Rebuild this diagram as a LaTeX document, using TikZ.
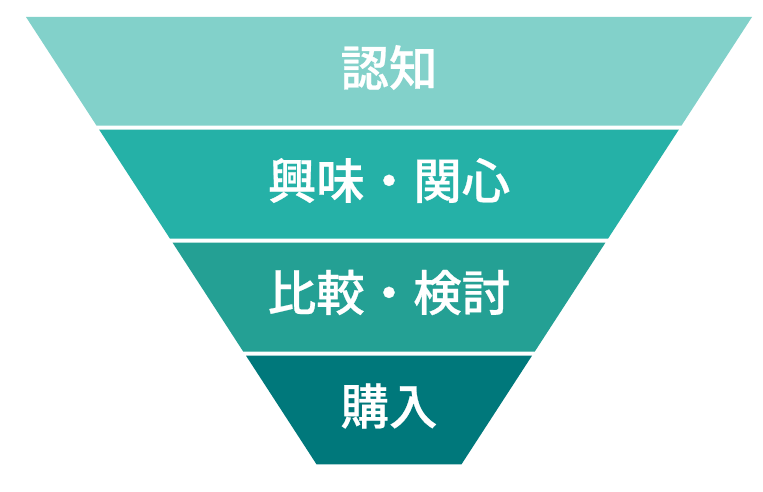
\documentclass[tikz,border=0pt]{standalone}
\usepackage{fontspec}
\newfontfamily\cjk{Noto Sans CJK JP}[UprightFont={* Medium},FakeBold=0.5]
\definecolor{bandA}{RGB}{130,209,202}
\definecolor{bandB}{RGB}{37,177,167}
\definecolor{bandC}{RGB}{36,160,148}
\definecolor{bandD}{RGB}{0,120,123}
\tikzset{
  band/.style={draw=none},
  label/.style={text=white, font=\cjk\fontsize{48.5}{50}\selectfont, inner sep=0pt, anchor=center}
}
\begin{document}
\begin{tikzpicture}[x=1pt,y=-1pt]
\useasboundingbox[fill=white] (0,0) rectangle (763,492);
\fill[band,bandA] (26,17) -- (752,17) -- (681.4,125.7) -- (96.6,125.7) -- cycle;
\fill[band,bandB] (99.2,129.7) -- (678.8,129.7) -- (608,238.7) -- (170,238.7) -- cycle;
\fill[band,bandC] (172.6,242.7) -- (605.4,242.7) -- (534.7,351.7) -- (243.3,351.7) -- cycle;
\fill[band,bandD] (246,355.7) -- (532,355.7) -- (461.5,464.3) -- (316.5,464.3) -- cycle;
\node[label] (l1) at (389,67.5) {認知};
\node[label] (l2) at (389,180.5) {興味・関心};
\node[label] (l3) at (389,292.5) {比較・検討};
\node[label] (l4) at (389,406) {購入};
\end{tikzpicture}
\end{document}
